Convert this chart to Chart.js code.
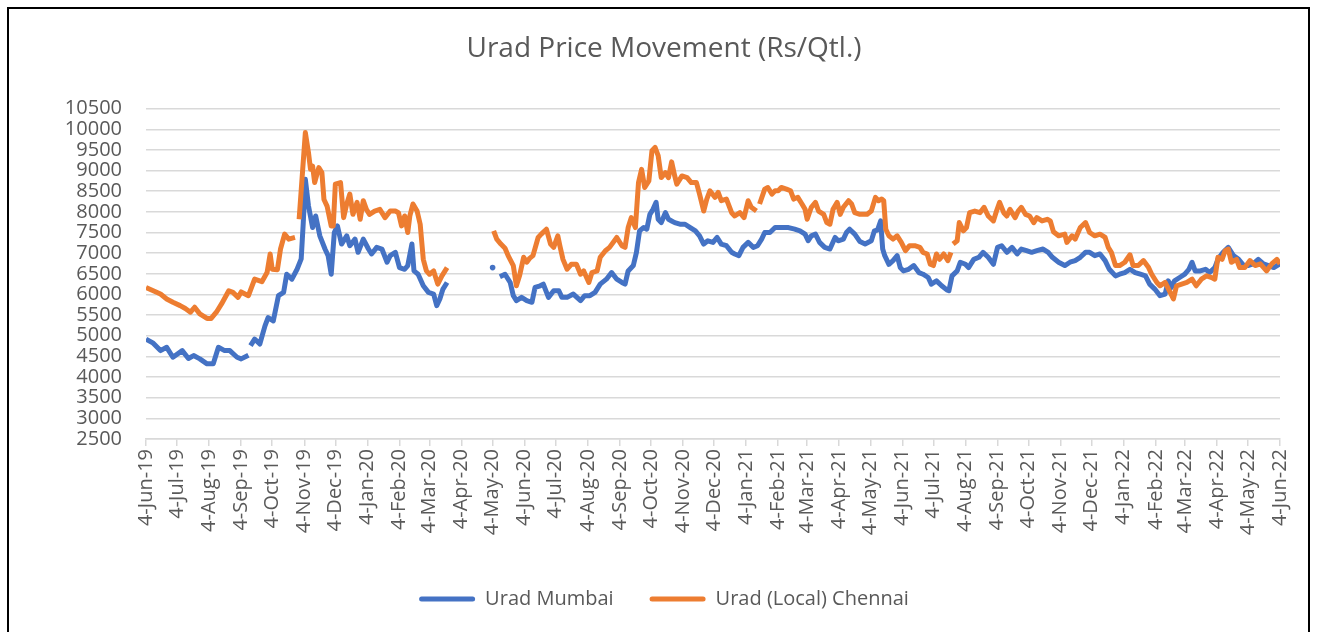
<!DOCTYPE html>
<html>
<head>
<meta charset="utf-8">
<title>Urad Price Movement</title>
<script src="https://cdn.jsdelivr.net/npm/chart.js@4.4.1/dist/chart.umd.min.js"></script>
<style>
  html, body { margin: 0; padding: 0; background: #fff; overflow: hidden; }
  .frame { position: absolute; left: 7px; top: 7px; width: 1299px; height: 700px; border: 2px solid #000; }
  .wrap { position: absolute; left: 0; top: 0; width: 1317px; height: 632px; }
</style>
</head>
<body>
<div class="frame"></div>
<div class="wrap"><canvas id="uradChart"></canvas></div>
<script>
// x values are days after 4-Jun-2019, null = no quote (break in the line)
const mumbaiDay = [
  0, 7, 14, 20, 26, 35, 41, 46, 52, 59, 65, 70, 76, 81, 88, 92, 99, 100, 101, 105,
  110, 115, 118, 123, 128, 133, 136, 141, 146, 150, 152, 154, 157, 161, 164, 168, 173, 176, 179, 182,
  185, 189, 194, 197, 202, 205, 210, 215, 218, 223, 228, 233, 236, 241, 245, 250, 253, 257, 259, 263,
  268, 273, 278, 281, 284, 287, 291, 313, 335, 338, 342, 347, 352, 355, 358, 363, 368, 373, 376, 381,
  384, 389, 394, 399, 402, 407, 413, 420, 424, 429, 434, 439, 445, 450, 455, 460, 463, 466, 471, 474,
  477, 481, 484, 487, 490, 493, 495, 498, 502, 505, 508, 511, 516, 521, 526, 531, 535, 539, 543, 548,
  552, 556, 561, 566, 569, 573, 577, 582, 587, 591, 595, 598, 603, 608, 614, 621, 627, 632, 637, 640,
  643, 647, 651, 656, 661, 666, 669, 674, 677, 680, 685, 690, 695, 701, 704, 707, 710, 712, 714, 718,
  722, 726, 729, 732, 737, 742, 747, 751, 756, 759, 764, 769, 774, 776, 779, 784, 787, 792, 795, 800,
  805, 809, 814, 819, 823, 827, 832, 837, 842, 846, 851, 856, 861, 867, 872, 876, 882, 888, 893, 898,
  903, 908, 912, 917, 922, 927, 931, 937, 941, 946, 951, 956, 961, 966, 970, 975, 980, 985, 988, 991,
  994, 999, 1004, 1008, 1011, 1014, 1019, 1024, 1028, 1033, 1036, 1041, 1046, 1051, 1056, 1061, 1065, 1070, 1075, 1080,
  1085, 1090, 1096
];
const mumbaiPrice = [
  4920, 4820, 4640, 4720, 4480, 4640, 4450, 4520, 4440, 4320, 4320, 4720, 4640, 4640, 4480, 4440, 4530, null, 4760, 4920,
  4800, 5240, 5440, 5360, 5970, 6050, 6490, 6370, 6610, 6860, 7740, 8790, 8150, 7620, 7900, 7420, 7100, 6940, 6490, 7500,
  7660, 7220, 7420, 7180, 7340, 7020, 7340, 7100, 6980, 7140, 7100, 6780, 6940, 7020, 6650, 6610, 6700, 7220, 6570, 6490,
  6210, 6050, 6010, 5730, 5890, 6130, 6290, null, 6650, null, 6430, 6490, 6290, 5970, 5850, 5930, 5850, 5810, 6170, 6210,
  6250, 5930, 6090, 6090, 5930, 5930, 6010, 5850, 5970, 5970, 6050, 6250, 6370, 6530, 6370, 6290, 6250, 6570, 6700, 7020,
  7540, 7620, 7580, 7940, 8060, 8230, 7820, 7740, 7980, 7820, 7780, 7740, 7700, 7700, 7620, 7540, 7420, 7220, 7300, 7260,
  7380, 7220, 7180, 7020, 6980, 6940, 7140, 7260, 7140, 7180, 7340, 7500, 7500, 7620, 7620, 7620, 7580, 7540, 7460, 7300,
  7420, 7460, 7260, 7140, 7100, 7380, 7300, 7340, 7500, 7580, 7460, 7280, 7220, 7300, 7540, 7560, 7780, 7100, 6940, 6730,
  6820, 6940, 6650, 6570, 6610, 6700, 6530, 6490, 6410, 6250, 6330, 6210, 6110, 6090, 6450, 6570, 6780, 6730, 6650, 6850,
  6900, 7020, 6900, 6730, 7140, 7180, 7020, 7140, 6980, 7100, 7060, 7020, 7060, 7100, 7020, 6900, 6780, 6700, 6780, 6820,
  6900, 7020, 7020, 6940, 6980, 6820, 6610, 6450, 6490, 6530, 6610, 6530, 6490, 6450, 6250, 6130, 5970, 6010, 6330, 6170,
  6330, 6410, 6490, 6610, 6780, 6570, 6570, 6610, 6530, 6650, 6850, 7020, 7140, 6940, 6850, 6700, 6700, 6740, 6850, 6740,
  6700, 6650, 6740
];

const chennaiDay = [
  0, 7, 14, 20, 26, 33, 38, 43, 47, 52, 59, 63, 68, 73, 80, 84, 89, 92, 99, 105,
  112, 117, 120, 122, 127, 130, 134, 138, 144, 146, 148, 154, 157, 159, 161, 163, 167, 170, 172, 175,
  179, 181, 183, 188, 191, 194, 197, 200, 204, 207, 210, 213, 216, 221, 226, 231, 236, 241, 244, 247,
  250, 253, 255, 258, 262, 265, 268, 271, 274, 278, 282, 286, 291, 313, 336, 339, 343, 347, 350, 355,
  358, 361, 365, 368, 371, 374, 379, 382, 387, 391, 394, 398, 400, 403, 407, 411, 416, 420, 423, 428,
  431, 436, 439, 444, 448, 455, 460, 463, 466, 469, 473, 476, 479, 482, 486, 489, 492, 495, 498, 502,
  505, 508, 511, 513, 518, 523, 527, 532, 535, 539, 542, 545, 550, 553, 556, 561, 566, 569, 574, 578,
  582, 585, 590, 592, 593, 598, 601, 605, 608, 611, 614, 619, 623, 626, 630, 634, 637, 639, 643, 647,
  650, 655, 658, 661, 664, 668, 671, 674, 679, 682, 685, 690, 697, 701, 705, 708, 711, 713, 715, 718,
  722, 726, 730, 734, 738, 743, 748, 751, 755, 758, 761, 764, 767, 771, 775, 778, 779, 780, 784, 786,
  790, 793, 796, 801, 806, 810, 814, 819, 822, 825, 829, 832, 835, 840, 843, 846, 850, 854, 858, 861,
  866, 871, 874, 877, 882, 888, 890, 895, 898, 903, 908, 912, 917, 922, 927, 930, 933, 937, 941, 946,
  951, 954, 959, 964, 969, 972, 977, 980, 985, 989, 993, 996, 1001, 1006, 1011, 1015, 1020, 1025, 1030, 1033,
  1036, 1040, 1043, 1046, 1049, 1054, 1057, 1062, 1067, 1072, 1077, 1083, 1088, 1093, 1096
];
const chennaiPrice = [
  6170, 6090, 6010, 5890, 5810, 5730, 5660, 5570, 5690, 5530, 5420, 5420, 5570, 5770, 6090, 6050, 5930, 6060, 5970, 6370,
  6310, 6530, 6980, 6610, 6600, 7100, 7460, 7340, 7380, null, 7820, 9920, 9440, 9030, 9110, 8710, 9070, 8950, 8300, 8140,
  7660, 7660, 8670, 8710, 7860, 8190, 8430, 7940, 8230, 7820, 8270, 8060, 7940, 8020, 8060, 7860, 8020, 8020, 7980, 7660,
  7900, 7500, 7900, 8190, 8020, 7700, 6850, 6570, 6490, 6570, 6250, 6450, 6650, null, 7540, 7340, 7220, 7120, 6940, 6700,
  6210, 6450, 6900, 6780, 6880, 6940, 7380, 7460, 7580, 7220, 7140, 7420, 7180, 6850, 6610, 6730, 6730, 6490, 6570, 6290,
  6530, 6570, 6900, 7060, 7140, 7380, 7180, 7140, 7620, 7860, 7620, 8710, 9030, 8590, 8750, 9480, 9560, 9360, 8830, 8950,
  8830, 9210, 8870, 8670, 8870, 8830, 8710, 8710, 8430, 8020, 8310, 8510, 8350, 8470, 8270, 8310, 7980, 7900, 7980, 7860,
  8270, 8110, 8020, null, 8190, 8550, 8590, 8430, 8510, 8510, 8590, 8550, 8510, 8310, 8350, 8190, 8060, 7820, 8110, 8230,
  8020, 7940, 7740, 7700, 8060, 8230, 7940, 8110, 8270, 8190, 7980, 7940, 7940, 8020, 8350, 8270, 8310, 8270, 7580, 7420,
  7340, 7420, 7260, 7060, 7180, 7180, 7140, 7020, 6980, 6730, 6700, 6980, 6850, 6980, 6820, 7020, null, 7220, 7300, 7740,
  7540, 7620, 7980, 8020, 7980, 8110, 7900, 7780, 8020, 8230, 7980, 7900, 8060, 7860, 8020, 8110, 7940, 7900, 7740, 7860,
  7780, 7820, 7780, 7520, 7420, 7460, 7260, 7420, 7340, 7620, 7740, 7500, 7420, 7460, 7380, 7140, 7020, 6700, 6700, 6780,
  6960, 6700, 6700, 6820, 6650, 6490, 6290, 6210, 6290, 6090, 5890, 6210, 6250, 6290, 6370, 6210, 6370, 6450, 6410, 6370,
  6900, 6850, 7060, 7100, 6780, 6850, 6650, 6650, 6820, 6700, 6740, 6570, 6740, 6850, 6740
];

const tickLabels = [
  "4-Jun-19", "4-Jul-19", "4-Aug-19", "4-Sep-19", "4-Oct-19", "4-Nov-19", "4-Dec-19",
  "4-Jan-20", "4-Feb-20", "4-Mar-20", "4-Apr-20", "4-May-20", "4-Jun-20", "4-Jul-20",
  "4-Aug-20", "4-Sep-20", "4-Oct-20", "4-Nov-20", "4-Dec-20", "4-Jan-21", "4-Feb-21",
  "4-Mar-21", "4-Apr-21", "4-May-21", "4-Jun-21", "4-Jul-21", "4-Aug-21", "4-Sep-21",
  "4-Oct-21", "4-Nov-21", "4-Dec-21", "4-Jan-22", "4-Feb-22", "4-Mar-22", "4-Apr-22",
  "4-May-22", "4-Jun-22"
];

const monthNames = ["Jan", "Feb", "Mar", "Apr", "May", "Jun", "Jul", "Aug", "Sep", "Oct", "Nov", "Dec"];
const startUTC = Date.UTC(2019, 5, 4);

// "4-Jun-19" -> days after 4-Jun-2019
function labelToDay(label) {
  const parts = label.split("-");
  const t = Date.UTC(2000 + Number(parts[2]), monthNames.indexOf(parts[1]), Number(parts[0]));
  return Math.round((t - startUTC) / 86400000);
}
const tickDays = tickLabels.map(labelToDay);

function toPoints(days, prices) {
  return days.map((d, i) => ({ x: d, y: prices[i] }));
}

// show a dot only where a single quote stands alone between gaps
function loneDot(ctx) {
  const data = ctx.dataset.data;
  const i = ctx.dataIndex;
  if (data[i].y == null) return 0;
  const prev = data[i - 1], next = data[i + 1];
  const alone = (!prev || prev.y == null) && (!next || next.y == null);
  return alone ? 2.8 : 0;
}

const textColor = "#595959";
const gridColor = "#d9d9d9";
const fontFamily = "'Open Sans', 'Liberation Sans', sans-serif";

const ctx = document.getElementById("uradChart").getContext("2d");

new Chart(ctx, {
  type: "line",
  data: {
    datasets: [
      {
        label: "Urad Mumbai",
        data: toPoints(mumbaiDay, mumbaiPrice),
        borderColor: "#4472C4",
        backgroundColor: "#4472C4",
        order: 1,
      },
      {
        label: "Urad (Local) Chennai",
        data: toPoints(chennaiDay, chennaiPrice),
        borderColor: "#ED7D31",
        backgroundColor: "#ED7D31",
        order: 0,
      },
    ],
  },
  options: {
    responsive: true,
    maintainAspectRatio: false,
    animation: false,
    spanGaps: false,
    layout: {
      padding: { left: 48, right: 37, top: 0, bottom: 13 },
    },
    elements: {
      line: {
        borderWidth: 5,
        tension: 0,
        borderJoinStyle: "round",
        borderCapStyle: "butt",
      },
      point: {
        radius: loneDot,
        hoverRadius: 0,
        borderWidth: 0,
      },
    },
    plugins: {
      title: {
        display: true,
        text: "Urad Price Movement (Rs/Qtl.)",
        color: textColor,
        font: { family: fontFamily, size: 28, weight: "normal" },
        padding: { top: 32, bottom: 43 },
      },
      legend: {
        position: "bottom",
        labels: {
          color: textColor,
          font: { family: fontFamily, size: 20 },
          boxWidth: 56,
          boxHeight: 5,
          useBorderRadius: true,
          borderRadius: 2.5,
          padding: 36,
          generateLabels: (chart) =>
            chart.data.datasets.map((ds, i) => ({
              text: ds.label,
              fillStyle: ds.borderColor,
              strokeStyle: ds.borderColor,
              lineWidth: 0,
              fontColor: textColor,
              borderRadius: 2.5,
              hidden: false,
              datasetIndex: i,
            })),
        },
      },
      tooltip: { enabled: false },
    },
    scales: {
      x: {
        type: "linear",
        min: 0,
        max: 1096,
        afterBuildTicks: (scale) => {
          scale.ticks = tickDays.map((v) => ({ value: v }));
        },
        afterFit: (scale) => {
          scale.height = 114;
        },
        ticks: {
          autoSkip: false,
          minRotation: 90,
          maxRotation: 90,
          padding: 3,
          color: textColor,
          font: { family: fontFamily, size: 20 },
          callback: (value, index) => tickLabels[index],
        },
        grid: {
          drawOnChartArea: false,
          drawTicks: true,
          tickLength: 7,
          color: gridColor,
          lineWidth: 1.5,
        },
        border: { color: gridColor, width: 1.5 },
      },
      y: {
        min: 2500,
        max: 10500,
        afterFit: (scale) => {
          scale.width = 98;
        },
        ticks: {
          stepSize: 500,
          autoSkip: false,
          padding: 24,
          color: textColor,
          font: { family: fontFamily, size: 20 },
          callback: (value) => String(value),
        },
        grid: {
          color: gridColor,
          lineWidth: 1.5,
          drawTicks: false,
        },
        border: { display: false },
      },
    },
  },
});
</script>
</body>
</html>
